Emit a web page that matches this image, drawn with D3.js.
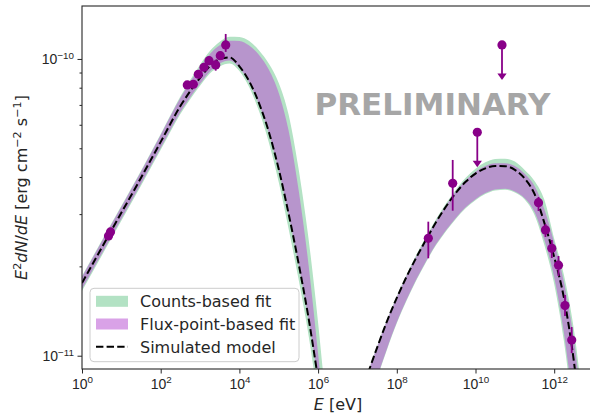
<!DOCTYPE html>
<html><head><meta charset="utf-8">
<script src="https://cdn.jsdelivr.net/npm/d3@7/dist/d3.min.js"></script>
<style>
body{margin:0;background:#fff}
svg{display:block;font-family:"DejaVu Sans",sans-serif}
</style>
</head><body>
<svg id="chart" width="590" height="413"></svg>
<script>
// ---------------- DATA ----------------
// Low-energy (synchrotron-like) component: energies [eV]
const syncE = [1, 5.623, 31.62, 100, 316.2, 562.3, 1000, 1778, 3162, 5623, 1e4, 1.778e4, 3.162e4, 5.623e4, 1e5, 1.778e5, 3.162e5, 5.623e5, 1e6, 1.778e6];
const syncModel   = [1.758e-11, 2.647e-11, 3.978e-11, 5.255e-11, 6.939e-11, 7.790e-11, 8.636e-11, 9.464e-11, 9.985e-11, 1.012e-10, 9.442e-11, 8.405e-11, 7.086e-11, 5.666e-11, 4.249e-11, 3.010e-11, 2.059e-11, 1.357e-11, 8.344e-12, 5.028e-12];
const syncFluxHi  = [1.842e-11, 2.773e-11, 4.167e-11, 5.544e-11, 7.383e-11, 8.371e-11, 9.384e-11, 1.039e-10, 1.112e-10, 1.152e-10, 1.150e-10, 1.110e-10, 1.032e-10, 9.196e-11, 7.682e-11, 5.736e-11, 3.652e-11, 2.063e-11, 1.016e-11, 4.560e-12];
const syncFluxLo  = [1.678e-11, 2.527e-11, 3.797e-11, 5.016e-11, 6.623e-11, 7.435e-11, 8.243e-11, 9.076e-11, 9.657e-11, 9.884e-11, 9.326e-11, 8.333e-11, 7.026e-11, 5.623e-11, 4.216e-11, 2.987e-11, 2.044e-11, 1.346e-11, 8.281e-12, 4.989e-12];
const syncCountsHi = [1.856e-11, 2.795e-11, 4.200e-11, 5.588e-11, 7.469e-11, 8.495e-11, 9.567e-11, 1.063e-10, 1.143e-10, 1.188e-10, 1.186e-10, 1.149e-10, 1.068e-10, 9.635e-11, 8.300e-11, 6.496e-11, 4.298e-11, 2.524e-11, 1.292e-11, 5.845e-12];
const syncCountsLo = [1.652e-11, 2.487e-11, 3.738e-11, 4.939e-11, 6.521e-11, 7.320e-11, 8.116e-11, 8.936e-11, 9.435e-11, 9.657e-11, 9.111e-11, 8.022e-11, 6.659e-11, 5.223e-11, 3.841e-11, 2.680e-11, 1.819e-11, 1.189e-11, 7.147e-12, 4.305e-12];

// High-energy (inverse-Compton-like) component
const icE = [1e7, 1.778e7, 3.162e7, 5.623e7, 1e8, 1.778e8, 3.162e8, 5.623e8, 1e9, 1.778e9, 3.162e9, 5.623e9, 1e10, 1.778e10, 3.162e10, 5.623e10, 1e11, 1.778e11, 3.162e11, 5.623e11, 1e12, 1.778e12, 3.162e12, 5.623e12, 1e13];
const icModel    = [6.929e-12, 8.601e-12, 1.065e-11, 1.306e-11, 1.566e-11, 1.848e-11, 2.147e-11, 2.470e-11, 2.823e-11, 3.183e-11, 3.535e-11, 3.856e-11, 4.107e-11, 4.278e-11, 4.359e-11, 4.352e-11, 4.229e-11, 3.953e-11, 3.508e-11, 2.803e-11, 2.149e-11, 1.560e-11, 9.575e-12, 4.877e-12, 2.248e-12];
const icFluxHi   = [6.983e-12, 8.675e-12, 1.073e-11, 1.316e-11, 1.578e-11, 1.862e-11, 2.164e-11, 2.489e-11, 2.845e-11, 3.208e-11, 3.567e-11, 3.901e-11, 4.167e-11, 4.359e-11, 4.451e-11, 4.451e-11, 4.359e-11, 4.104e-11, 3.732e-11, 3.116e-11, 2.402e-11, 1.766e-11, 1.134e-11, 5.858e-12, 2.773e-12];
const icFluxLo   = [5.531e-12, 6.843e-12, 8.469e-12, 1.056e-11, 1.296e-11, 1.547e-11, 1.814e-11, 2.090e-11, 2.377e-11, 2.649e-11, 2.912e-11, 3.164e-11, 3.369e-11, 3.532e-11, 3.632e-11, 3.654e-11, 3.576e-11, 3.395e-11, 3.050e-11, 2.454e-11, 1.833e-11, 1.186e-11, 6.501e-12, 3.263e-12, 1.502e-12];
const icCountsHi = [6.983e-12, 8.675e-12, 1.077e-11, 1.321e-11, 1.587e-11, 1.877e-11, 2.193e-11, 2.528e-11, 2.889e-11, 3.258e-11, 3.623e-11, 3.977e-11, 4.269e-11, 4.482e-11, 4.602e-11, 4.613e-11, 4.514e-11, 4.226e-11, 3.880e-11, 3.353e-11, 2.479e-11, 1.862e-11, 1.227e-11, 6.526e-12, 3.114e-12];
const icCountsLo = [5.488e-12, 6.790e-12, 8.404e-12, 1.048e-11, 1.286e-11, 1.535e-11, 1.800e-11, 2.074e-11, 2.359e-11, 2.628e-11, 2.889e-11, 3.138e-11, 3.343e-11, 3.505e-11, 3.604e-11, 3.626e-11, 3.548e-11, 3.361e-11, 2.980e-11, 2.361e-11, 1.745e-11, 1.112e-11, 5.977e-12, 2.905e-12, 1.337e-12];

// Flux points
const pointE    = [4.71, 5.30, 474, 674, 903, 1260, 1689, 2499, 3270, 4486, 6.32e8, 2.634e9, 3.990e11, 6.01e11, 8.69e11, 1.287e12, 1.882e12, 2.784e12];
const pointF    = [2.532e-11, 2.612e-11, 8.172e-11, 8.217e-11, 8.880e-11, 9.376e-11, 9.869e-11, 9.545e-11, 1.026e-10, 1.115e-10, 2.487e-11, 3.811e-11, 3.279e-11, 2.653e-11, 2.301e-11, 2.018e-11, 1.476e-11, 1.1295e-11];
const pointFLo  = [2.48e-11, 2.56e-11, 7.92e-11, 7.97e-11, 8.61e-11, 9.09e-11, 9.57e-11, 9.13e-11, 9.95e-11, 1.056e-10, 2.129e-11, 3.081e-11, 3.074e-11, 2.512e-11, 2.134e-11, 1.856e-11, 1.361e-11, 1.021e-11];
const pointFHi  = [2.58e-11, 2.66e-11, 8.43e-11, 8.48e-11, 9.16e-11, 9.67e-11, 1.018e-10, 9.95e-11, 1.058e-10, 1.214e-10, 2.829e-11, 4.567e-11, 3.427e-11, 2.779e-11, 2.454e-11, 2.168e-11, 1.602e-11, 1.249e-11];
// Upper limits
const ulE = [1.111e10, 4.714e10];
const ulF = [5.662e-11, 1.115e-10];

// Axes
const xTicks = [1e0, 1e2, 1e4, 1e6, 1e8, 1e10, 1e12];
const xTickExp = ["0", "2", "4", "6", "8", "10", "12"];
const yTicks = [1e-11, 1e-10];
const yTickExp = ["\u221211", "\u221210"];
const yMinor = [2e-11, 3e-11, 4e-11, 5e-11, 6e-11, 7e-11, 8e-11, 9e-11];
const legendLabels = ["Counts-based fit", "Flux-point-based fit", "Simulated model"];

// ---------------- CHART ----------------
const svg = d3.select("#chart");
const L = 82, R = 593.55, T = 6, B = 369;
const x = d3.scaleLog().domain([1, 1e13]).range([L, R]);
const y = d3.scaleLog().domain([9.02e-12, 1.508e-10]).range([B, T]);

const greenFill = "#b3e2c4";
const purpleFill = "rgba(186,85,211,0.55)";
const pointColor = "#880088";

svg.append("defs").append("clipPath").attr("id", "plotclip")
  .append("rect").attr("x", L).attr("y", T).attr("width", R - L).attr("height", B - T);

const plot = svg.append("g").attr("clip-path", "url(#plotclip)");

function rows(E, m, pLo, pHi, gLo, gHi) {
  return E.map((e, i) => ({E: e, m: m[i], pLo: pLo[i], pHi: pHi[i], gLo: gLo[i], gHi: gHi[i]}));
}
const comps = [
  rows(syncE, syncModel, syncFluxLo, syncFluxHi, syncCountsLo, syncCountsHi),
  rows(icE, icModel, icFluxLo, icFluxHi, icCountsLo, icCountsHi)
];
const curve = d3.curveMonotoneX;
const areaG = d3.area().x(d => x(d.E)).y0(d => y(d.gLo)).y1(d => y(d.gHi)).curve(curve);
const areaP = d3.area().x(d => x(d.E)).y0(d => y(d.pLo)).y1(d => y(d.pHi)).curve(curve);
const lineM = d3.line().x(d => x(d.E)).y(d => y(d.m)).curve(curve);

comps.forEach(c => plot.append("path").attr("d", areaG(c)).attr("fill", greenFill));
comps.forEach(c => plot.append("path").attr("d", areaP(c)).attr("fill", purpleFill));
comps.forEach(c => plot.append("path").attr("d", lineM(c)).attr("fill", "none")
  .attr("stroke", "#000").attr("stroke-width", 2).attr("stroke-dasharray", "7.4,3.2"));

// error bars + points
const pts = pointE.map((e, i) => ({E: e, F: pointF[i], lo: pointFLo[i], hi: pointFHi[i]}));
plot.selectAll(".eb").data(pts).enter().append("line")
  .attr("x1", d => x(d.E)).attr("x2", d => x(d.E))
  .attr("y1", d => y(d.lo)).attr("y2", d => y(d.hi))
  .attr("stroke", pointColor).attr("stroke-width", 1.8);
plot.selectAll(".pt").data(pts).enter().append("circle")
  .attr("cx", d => x(d.E)).attr("cy", d => y(d.F)).attr("r", 4.6).attr("fill", pointColor);

// upper limits
const uls = ulE.map((e, i) => ({E: e, F: ulF[i]}));
uls.forEach(d => {
  const cx = x(d.E), cy = y(d.F);
  plot.append("line").attr("x1", cx).attr("x2", cx).attr("y1", cy).attr("y2", cy + 30)
    .attr("stroke", pointColor).attr("stroke-width", 1.8);
  plot.append("path").attr("d", `M${cx - 4.6},${cy + 28.5}L${cx + 4.6},${cy + 28.5}L${cx},${cy + 35}Z`)
    .attr("fill", pointColor);
  plot.append("circle").attr("cx", cx).attr("cy", cy).attr("r", 4.6).attr("fill", pointColor);
});

// PRELIMINARY
svg.append("text").attr("x", 432.5).attr("y", 115).attr("text-anchor", "middle")
  .attr("font-size", 31).attr("font-weight", "bold").attr("fill", "#a6a6a6").text("PRELIMINARY");

// frame
svg.append("rect").attr("x", L).attr("y", T).attr("width", R - L).attr("height", B - T)
  .attr("fill", "none").attr("stroke", "#262626").attr("stroke-width", 1.1);

// axes
const tickFont = 14;
const xAxis = d3.axisBottom(x).tickValues(xTicks).tickSize(4.5).tickFormat(() => "");
const gx = svg.append("g").attr("transform", `translate(0,${B})`).call(xAxis);
gx.select(".domain").remove();
gx.selectAll(".tick line").attr("stroke", "#262626");
gx.selectAll(".tick").each(function(d, i) {
  const t = d3.select(this).append("text").attr("y", 19.5).attr("fill", "#262626")
    .attr("text-anchor", "middle").attr("font-size", tickFont);
  t.append("tspan").text("10");
  t.append("tspan").attr("dy", -5.5).attr("font-size", tickFont * 0.7).text(xTickExp[i]);
});

const yAxis = d3.axisLeft(y).tickValues(yTicks).tickSize(4.5).tickFormat(() => "");
const gy = svg.append("g").attr("transform", `translate(${L},0)`).call(yAxis);
gy.select(".domain").remove();
gy.selectAll(".tick line").attr("stroke", "#262626");
gy.selectAll(".tick").each(function(d, i) {
  const t = d3.select(this).append("text").attr("x", -8).attr("y", 4.8).attr("fill", "#262626")
    .attr("text-anchor", "end").attr("font-size", tickFont);
  t.append("tspan").text("10");
  t.append("tspan").attr("dy", -5.5).attr("font-size", tickFont * 0.7).text(yTickExp[i]);
});
const yAxisMinor = d3.axisLeft(y).tickValues(yMinor).tickSize(2.5).tickFormat(() => "");
const gym = svg.append("g").attr("transform", `translate(${L},0)`).call(yAxisMinor);
gym.select(".domain").remove();
gym.selectAll(".tick line").attr("stroke", "#262626");

// axis labels
const xl = svg.append("text").attr("x", 338).attr("y", 410).attr("text-anchor", "middle")
  .attr("font-size", 16).attr("fill", "#262626");
xl.append("tspan").attr("font-style", "italic").text("E");
xl.append("tspan").text(" [eV]");

const yl = svg.append("text").attr("transform", "translate(27,187.5) rotate(-90)")
  .attr("text-anchor", "middle").attr("font-size", 16).attr("fill", "#262626");
yl.append("tspan").attr("font-style", "italic").text("E");
yl.append("tspan").attr("dy", -6).attr("font-size", 11.2).text("2");
yl.append("tspan").attr("dy", 6).attr("font-style", "italic").text("dN");
yl.append("tspan").text("/");
yl.append("tspan").attr("font-style", "italic").text("dE");
yl.append("tspan").text(" [erg cm");
yl.append("tspan").attr("dy", -6).attr("font-size", 11.2).text("\u22122");
yl.append("tspan").attr("dy", 6).text(" s");
yl.append("tspan").attr("dy", -6).attr("font-size", 11.2).text("\u22121");
yl.append("tspan").attr("dy", 6).text("]");

// legend
const lg = svg.append("g");
lg.append("rect").attr("x", 90).attr("y", 288.3).attr("width", 209).attr("height", 73.4)
  .attr("rx", 4).attr("fill", "rgba(255,255,255,0.8)").attr("stroke", "#cccccc").attr("stroke-width", 1);
const rowY = [301.3, 324, 346.7];
lg.append("rect").attr("x", 96).attr("y", rowY[0] - 5.5).attr("width", 32).attr("height", 11).attr("fill", greenFill);
lg.append("rect").attr("x", 96).attr("y", rowY[1] - 5.5).attr("width", 32).attr("height", 11).attr("fill", purpleFill);
lg.append("line").attr("x1", 96).attr("x2", 128).attr("y1", rowY[2]).attr("y2", rowY[2])
  .attr("stroke", "#000").attr("stroke-width", 2).attr("stroke-dasharray", "7.4,3.2");
legendLabels.forEach((s, i) => lg.append("text").attr("x", 140).attr("y", rowY[i] + 5.8)
  .attr("font-size", 16).attr("fill", "#262626").text(s));
</script>
</body></html>
